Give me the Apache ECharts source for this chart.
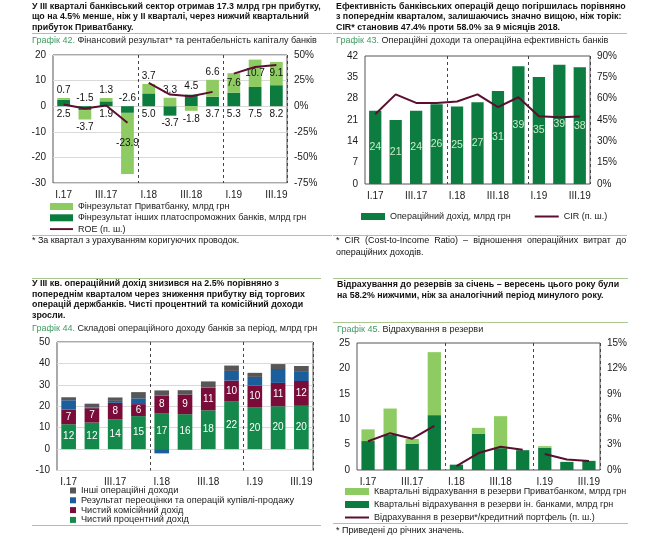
<!DOCTYPE html>
<html><head><meta charset="utf-8">
<script src="https://cdn.jsdelivr.net/npm/echarts@6/dist/echarts.min.js"></script>
<style>
html,body{margin:0;padding:0;background:#fff;}
#page{position:relative;width:666px;height:540px;overflow:hidden;font-family:"Liberation Sans",Arial,sans-serif;color:#111;}
.abs{position:absolute;z-index:5;}
.hdr{font-weight:bold;font-size:8.85px;line-height:10.4px;white-space:nowrap;color:#111;}
.rule{position:absolute;height:1px;background:#a9c78f;z-index:5;}
.ttl{font-size:9.05px;line-height:11px;white-space:nowrap;color:#222;}
.ttl span{color:#3f9c62;}
.fn{font-size:8.95px;line-height:11.5px;white-space:nowrap;color:#111;}
.chart{position:absolute;width:333px;height:270px;}
</style></head>
<body>
<div id="page">
  <div id="c42" class="chart" style="left:0;top:0"></div>
  <div id="c43" class="chart" style="left:333px;top:0"></div>
  <div id="c44" class="chart" style="left:0;top:270px"></div>
  <div id="c45" class="chart" style="left:333px;top:270px"></div>

  <div class="abs hdr" style="left:32px;top:1px">У ІІІ кварталі банківський сектор отримав 17.3 млрд грн прибутку,<br>що на 4.5% менше, ніж у ІІ кварталі, через нижчий квартальний<br>прибуток Приватбанку.</div>
  <div class="rule" style="left:32px;top:33px;width:300px"></div>
  <div class="abs ttl" style="left:32px;top:35px"><span>Графік 42.</span> Фінансовий результат* та рентабельність капіталу банків</div>
  <div class="rule" style="left:32px;top:235px;width:300px"></div>
  <div class="abs fn" style="left:32px;top:235px">* За квартал з урахуванням коригуючих проводок.</div>

  <div class="abs hdr" style="left:336px;top:1px">Ефективність банківських операцій дещо погіршилась порівняно<br>з попереднім кварталом, залишаючись значно вищою, ніж торік:<br>CIR* становив 47.4% проти 58.0% за 9 місяців 2018.</div>
  <div class="rule" style="left:333px;top:33px;width:294px"></div>
  <div class="abs ttl" style="left:336px;top:35px"><span>Графік 43.</span> Операційні доходи та операційна ефективність банків</div>
  <div class="rule" style="left:333px;top:235px;width:294px"></div>
  <div class="abs fn" style="left:336px;top:235px"><span style="word-spacing:2.6px">* CIR (Cost-to-Income Ratio) – відношення операційних витрат до</span><br>операційних доходів.</div>

  <div class="rule" style="left:32px;top:278px;width:289px"></div>
  <div class="abs hdr" style="left:32px;top:278px;line-height:10.7px">У ІІІ кв. операційний дохід знизився на 2.5% порівняно з<br>попереднім кварталом через зниження прибутку від торгових<br>операцій держбанків. Чисті процентний та комісійний доходи<br>зросли.</div>
  <div class="abs ttl" style="left:32px;top:323px"><span>Графік 44.</span> Складові операційного доходу банків за період, млрд грн</div>
  <div class="rule" style="left:32px;top:525px;width:289px"></div>

  <div class="rule" style="left:333px;top:278px;width:295px"></div>
  <div class="abs hdr" style="left:337px;top:279px;line-height:11.4px">Відрахування до резервів за січень – вересень цього року були<br>на 58.2% нижчими, ніж за аналогічний період минулого року.</div>
  <div class="rule" style="left:333px;top:322px;width:295px"></div>
  <div class="abs ttl" style="left:337px;top:324px"><span>Графік 45.</span> Відрахування в резерви</div>
  <div class="rule" style="left:333px;top:523px;width:295px"></div>
  <div class="abs fn" style="left:336px;top:525px">* Приведені до річних значень.</div>
</div>
<script>
// ---------- data ----------
const quarters = ['I.17','II.17','III.17','IV.17','I.18','II.18','III.18','IV.18','I.19','II.19','III.19'];
const yearSegments = [[0,3],[4,7],[8,10]];

// Графік 42
const privatResult = [0.7,-3.7,1.3,-23.9,3.7,3.3,-1.8,6.6,7.6,10.7,9.1];
const otherBanksResult = [2.5,-1.5,1.9,-2.6,5.0,-3.7,4.5,3.7,5.3,7.5,8.2];
const roe = [1.6,-2.3,0.6,-16.2,22.7,11.4,9.7,14.0,31.8,38.3,40.3];

// Графік 43
const operIncome = [24.0,21.0,24.0,26.2,25.4,26.8,30.5,38.6,35.1,39.1,38.3];
const cir = [49,63,57,57,58,63,54,61,47.7,47,47.4];

// Графік 44
const netInterest = [11.6,12.4,13.8,15.4,16.8,16.3,18.1,22.4,19.6,20.0,20.2];
const netCommission = [6.8,6.7,7.8,5.6,8.2,9.2,10.6,9.6,10.1,10.9,11.6];
const revaluation = [4.4,0.3,0.9,2.7,-2.0,-0.3,0.2,4.5,4.0,6.5,4.6];
const otherIncome = [1.4,1.8,1.6,2.9,2.4,2.0,2.7,2.5,1.9,2.3,2.4];

// Графік 45
const provPrivat = [2.3,5.1,0.9,12.4,0,1.2,6.3,0,0.3,0,0];
const provOther = [5.7,7.0,5.2,10.8,1.05,7.1,4.3,3.9,4.4,1.6,1.8];
const provRatio = [3.4,4.35,3.7,5.2,0.47,2.0,2.75,2.4,1.9,1.25,1.05];

// ---------- helpers ----------
const FONT = '"Liberation Sans", Arial, sans-serif';
const TXT = '#1a1a1a';
const MAROON = '#5a0f2e';
const LINE_ICON = 'path://M0,0L24,0L24,2L0,2Z';

function catAxis(extra) {
  return Object.assign({
    type: 'category', data: quarters, boundaryGap: true,
    axisLine: {show: false}, axisTick: {show: false},
    axisLabel: {interval: 1, color: TXT, fontSize: 10, fontFamily: FONT, margin: 7},
    splitLine: {show: true, interval: function (i) { return i === 4 || i === 8; },
      lineStyle: {color: '#444', type: [3, 3], width: 1}}
  }, extra || {});
}
function valAxis(min, max, interval, pct, grid) {
  return {
    type: 'value', min: min, max: max, interval: interval,
    axisLine: {show: false}, axisTick: {show: false},
    axisLabel: {color: TXT, fontSize: 10, fontFamily: FONT, margin: 7,
      formatter: function (v) { return pct ? v + '%' : String(v); }},
    splitLine: {show: !!grid, lineStyle: {color: '#d9d9d9', width: 1}}
  };
}
function segment(arr, from, to) {
  return arr.map(function (v, i) { return (i >= from && i <= to) ? v : null; });
}
function lineSegments(name, arr, color) {
  return yearSegments.map(function (s) {
    return {name: name, type: 'line', yAxisIndex: 1, data: segment(arr, s[0], s[1]),
      symbol: 'none', connectNulls: false, z: 10,
      lineStyle: {color: color, width: 2}, itemStyle: {color: color}};
  });
}
const gridBox = {show: true, borderColor: '#555', borderWidth: 1, backgroundColor: 'transparent'};

// ---------- Графік 42 ----------
function pos42(i, isLight) {
  const L = privatResult[i], D = otherBanksResult[i];
  const same = Math.sign(L) === Math.sign(D);
  if (isLight) {
    if (same && Math.abs(L + D) > 11) return 'inside';
    return L > 0 ? 'top' : 'bottom';
  }
  if (same) return D > 0 ? 'bottom' : 'top';
  return D > 0 ? 'top' : 'bottom';
}
function items42(arr, isLight) {
  return arr.map(function (v, i) {
    return {value: v, label: {position: pos42(i, isLight)}};
  });
}
const lbl42 = {show: true, color: '#111', fontSize: 10, fontFamily: FONT, distance: 3,
  formatter: function (p) { return p.value.toFixed(1); }};

const c42 = echarts.init(document.getElementById('c42'));
c42.setOption({
  animation: false,
  textStyle: {fontFamily: FONT},
  grid: Object.assign({left: 53, top: 55, width: 234, height: 128}, gridBox),
  legend: {orient: 'vertical', left: 50, top: 202, padding: 0, itemWidth: 23, itemHeight: 7, itemGap: 2.3,
    textStyle: {fontSize: 9, color: TXT, fontFamily: FONT},
    data: [{name: 'Фінрезультат Приватбанку, млрд грн', icon: 'rect'},
           {name: 'Фінрезультат інших платоспроможних банків, млрд грн', icon: 'rect'},
           {name: 'ROE (п. ш.)', icon: LINE_ICON}]},
  xAxis: catAxis(),
  yAxis: [valAxis(-30, 20, 10, false, true), valAxis(-75, 50, 25, true, false)],
  series: [
    {name: 'Фінрезультат інших платоспроможних банків, млрд грн', type: 'bar', stack: 'a',
      barWidth: '60%', itemStyle: {color: '#0b7b3e'}, label: lbl42, data: items42(otherBanksResult, false)},
    {name: 'Фінрезультат Приватбанку, млрд грн', type: 'bar', stack: 'a',
      barWidth: '60%', itemStyle: {color: '#8fcb63'}, label: lbl42, data: items42(privatResult, true)}
  ].concat(lineSegments('ROE (п. ш.)', roe, MAROON))
});

// ---------- Графік 43 ----------
const c43 = echarts.init(document.getElementById('c43'));
c43.setOption({
  animation: false,
  textStyle: {fontFamily: FONT},
  grid: Object.assign({left: 32, top: 56, width: 225, height: 128}, gridBox),
  legend: {orient: 'horizontal', left: 28, top: 212, padding: 0, itemWidth: 24, itemHeight: 7, itemGap: 24,
    textStyle: {fontSize: 9, color: TXT, fontFamily: FONT},
    data: [{name: 'Операційний дохід, млрд грн', icon: 'rect'}, {name: 'CIR (п. ш.)', icon: LINE_ICON}]},
  xAxis: catAxis(),
  yAxis: [valAxis(0, 42, 7, false, false), valAxis(0, 90, 15, true, false)],
  series: [
    {name: 'Операційний дохід, млрд грн', type: 'bar', barWidth: '60%', data: operIncome,
      itemStyle: {color: '#0d7c40'},
      label: {show: true, position: 'inside', color: '#cdebc9', fontSize: 10.5, fontFamily: FONT,
        formatter: function (p) { return Math.round(p.value); }}},
    {name: 'CIR (п. ш.)', type: 'line', yAxisIndex: 1, data: cir, symbol: 'none', z: 10,
      lineStyle: {color: MAROON, width: 2}, itemStyle: {color: MAROON}}
  ]
});

// ---------- Графік 44 ----------
const lbl44 = {show: true, position: 'inside', color: '#fff', fontSize: 10, fontFamily: FONT,
  formatter: function (p) { return Math.round(p.value); }};
const c44 = echarts.init(document.getElementById('c44'));
c44.setOption({
  animation: false,
  textStyle: {fontFamily: FONT},
  grid: Object.assign({left: 57, top: 72, width: 256, height: 128.5}, gridBox),
  legend: {orient: 'vertical', left: 70, top: 216, padding: 0, itemWidth: 6, itemHeight: 6, itemGap: 0.8,
    textStyle: {fontSize: 9.2, color: TXT, fontFamily: FONT},
    data: [{name: 'Інші операційні доходи', icon: 'rect'},
           {name: 'Результат переоцінки та операцій купівлі-продажу', icon: 'rect'},
           {name: 'Чистий комісійний дохід', icon: 'rect'},
           {name: 'Чистий процентний дохід', icon: 'rect'}]},
  xAxis: catAxis(),
  yAxis: [valAxis(-10, 50, 10, false, true)],
  series: [
    {name: 'Чистий процентний дохід', type: 'bar', stack: 's', barWidth: '63%', data: netInterest,
      itemStyle: {color: '#15894b'}, label: lbl44},
    {name: 'Чистий комісійний дохід', type: 'bar', stack: 's', data: netCommission,
      itemStyle: {color: '#7a0c3a'}, label: lbl44},
    {name: 'Результат переоцінки та операцій купівлі-продажу', type: 'bar', stack: 's', data: revaluation,
      itemStyle: {color: '#1c5e9c'}},
    {name: 'Інші операційні доходи', type: 'bar', stack: 's', data: otherIncome,
      itemStyle: {color: '#575757'}}
  ]
});

// ---------- Графік 45 ----------
const c45 = echarts.init(document.getElementById('c45'));
c45.setOption({
  animation: false,
  textStyle: {fontFamily: FONT},
  grid: Object.assign({left: 24, top: 73, width: 243, height: 127}, gridBox),
  legend: {orient: 'vertical', left: 12, top: 217, padding: 0, itemWidth: 24, itemHeight: 7, itemGap: 4,
    textStyle: {fontSize: 9, color: TXT, fontFamily: FONT},
    data: [{name: 'Квартальні відрахування в резерви Приватбанком, млрд грн', icon: 'rect'},
           {name: 'Квартальні відрахування в резерви ін. банками, млрд грн', icon: 'rect'},
           {name: 'Відрахування в резерви*/кредитний портфель (п. ш.)', icon: LINE_ICON}]},
  xAxis: catAxis(),
  yAxis: [valAxis(0, 25, 5, false, false), valAxis(0, 15, 3, true, false)],
  series: [
    {name: 'Квартальні відрахування в резерви ін. банками, млрд грн', type: 'bar', stack: 'p',
      barWidth: '60%', data: provOther, itemStyle: {color: '#0b7b3e'}},
    {name: 'Квартальні відрахування в резерви Приватбанком, млрд грн', type: 'bar', stack: 'p',
      barWidth: '60%', data: provPrivat, itemStyle: {color: '#8fcb63'}}
  ].concat(lineSegments('Відрахування в резерви*/кредитний портфель (п. ш.)', provRatio, MAROON))
});
</script>
</body></html>
